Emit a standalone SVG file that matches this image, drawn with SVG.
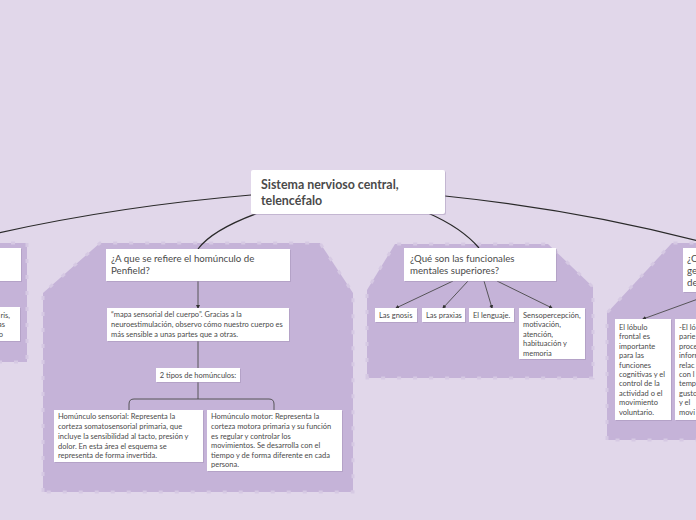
<svg xmlns="http://www.w3.org/2000/svg" width="696" height="520" viewBox="0 0 696 520">
<defs>
<style>
.bg{fill:#e1d7ea}
.cl{fill:#c5b3d8;stroke:#d6c9e3;stroke-width:3;stroke-dasharray:4 12}
.box{fill:#ffffff}
.sh{fill:#9f8fb3;opacity:0.45}
.t{font-family:Lato,"Open Sans",sans-serif;fill:#4a4a4a}
.title{font-size:12.4px;font-weight:bold}
.q{font-size:9.7px}
.s{font-size:7.5px}
.main{fill:none;stroke:#2a2a2a;stroke-width:1.2}
.sub{fill:none;stroke:#4a4a4a;stroke-width:0.9}
</style>
<marker id="ah" markerWidth="4" markerHeight="4" refX="3" refY="2" orient="auto" markerUnits="userSpaceOnUse">
<path d="M0,0 L4,2 L0,4 Z" fill="#333"/>
</marker>
</defs>
<rect class="bg" x="0" y="0" width="696" height="520"/>

<g id="clusters">
<polygon class="cl" points="-5,243 27,243 27,362 -5,362"/>
<polygon class="cl" points="43,492 43,293 100,243 320,243 353,293 353,492"/>
<polygon class="cl" points="367,378 367,290 395,244 548,244 593,287 593,378"/>
<polygon class="cl" points="607,440 607,313 672,243 700,243 700,440"/>
</g>

<g id="connectors">
<path class="main" d="M251,195 Q120,206 -2,233"/>
<path class="main" d="M445,196 Q580,210 698,241"/>
<path class="main" d="M258,213 Q212,230 198,249"/>
<path class="main" d="M428,213 Q462,228 479,248"/>
<path class="sub" d="M198,281 V308" marker-end="url(#ah)"/>
<path class="sub" d="M198,341 V368"/>
<path class="sub" d="M198,382 V399 M129,410 V404 Q129,399 134,399 H269 Q274,399 274,404 V410"/>
<path class="sub" d="M453,281 L396,308" marker-end="url(#ah)"/>
<path class="sub" d="M468,281 L443,308" marker-end="url(#ah)"/>
<path class="sub" d="M484,281 L492,308" marker-end="url(#ah)"/>
<path class="sub" d="M497,281 L552,308" marker-end="url(#ah)"/>
<path class="sub" d="M698,299 L643,319" marker-end="url(#ah)"/>
</g>

<g id="n-center">
<rect class="sh" x="252" y="171" width="194" height="44" rx="2"/>
<rect class="box" x="251" y="170" width="194" height="44" rx="2"/>
<text class="t title" x="261" y="189">Sistema nervioso central,</text>
<text class="t title" x="261" y="205">telencéfalo</text>
</g>

<g id="n-left1">
<rect class="sh" x="-4" y="249" width="26" height="33"/>
<rect class="box" x="-5" y="248" width="26" height="33"/>
</g>
<g id="n-left2">
<rect class="sh" x="-4" y="308" width="25" height="34"/>
<rect class="box" x="-5" y="307" width="25" height="34"/>
<text class="t s" x="10" y="318" text-anchor="end">ris,</text>
<text class="t s" x="5" y="327" text-anchor="end">as</text>
<text class="t s" x="3" y="337" text-anchor="end">o</text>
</g>

<g id="n-penfield">
<rect class="sh" x="107" y="250" width="184" height="32"/>
<rect class="box" x="106" y="249" width="184" height="32"/>
<text class="t q" x="111" y="262">¿A que se refiere el homúnculo de</text>
<text class="t q" x="111" y="274">Penfield?</text>
</g>
<g id="n-mapa">
<rect class="sh" x="108" y="309" width="182" height="33"/>
<rect class="box" x="107" y="308" width="182" height="33"/>
<text class="t s" x="111" y="317">“mapa sensorial del cuerpo”. Gracias a la</text>
<text class="t s" x="111" y="327">neuroestimulación, observo cómo nuestro cuerpo es</text>
<text class="t s" x="111" y="337">más sensible a unas partes que a otras.</text>
</g>
<g id="n-tipos">
<rect class="sh" x="157" y="369" width="84" height="14"/>
<rect class="box" x="156" y="368" width="84" height="14"/>
<text class="t s" x="198" y="378" text-anchor="middle">2 tipos de homúnculos:</text>
</g>
<g id="n-sensorial">
<rect class="sh" x="55" y="411" width="149" height="52"/>
<rect class="box" x="54" y="410" width="149" height="52"/>
<text class="t s" x="58" y="419">Homúnculo sensorial: Representa la</text>
<text class="t s" x="58" y="429">corteza somatosensorial primaria, que</text>
<text class="t s" x="58" y="439">incluye la sensibilidad al tacto, presión y</text>
<text class="t s" x="58" y="449">dolor. En esta área el esquema se</text>
<text class="t s" x="58" y="458">representa de forma invertida.</text>
</g>
<g id="n-motor">
<rect class="sh" x="208" y="411" width="135" height="61"/>
<rect class="box" x="207" y="410" width="135" height="61"/>
<text class="t s" x="211" y="419">Homúnculo motor: Representa la</text>
<text class="t s" x="211" y="429">corteza motora primaria y su función</text>
<text class="t s" x="211" y="439">es regular y controlar los</text>
<text class="t s" x="211" y="448">movimientos. Se desarrolla con el</text>
<text class="t s" x="211" y="458">tiempo y de forma diferente en cada</text>
<text class="t s" x="211" y="467">persona.</text>
</g>

<g id="n-funciones">
<rect class="sh" x="405" y="249" width="152" height="33"/>
<rect class="box" x="404" y="248" width="152" height="33"/>
<text class="t q" x="410" y="262">¿Qué son las funcionales</text>
<text class="t q" x="410" y="274">mentales superiores?</text>
</g>
<g id="n-gnosis">
<rect class="sh" x="376" y="309" width="42" height="14"/>
<rect class="box" x="375" y="308" width="42" height="14"/>
<text class="t s" x="379" y="318">Las gnosis</text>
</g>
<g id="n-praxias">
<rect class="sh" x="423" y="309" width="43" height="14"/>
<rect class="box" x="422" y="308" width="43" height="14"/>
<text class="t s" x="426" y="318">Las praxias</text>
</g>
<g id="n-lenguaje">
<rect class="sh" x="470" y="309" width="45" height="14"/>
<rect class="box" x="469" y="308" width="45" height="14"/>
<text class="t s" x="473" y="318">El lenguaje.</text>
</g>
<g id="n-senso">
<rect class="sh" x="520" y="309" width="66" height="51"/>
<rect class="box" x="519" y="308" width="66" height="51"/>
<text class="t s" x="523" y="318">Sensopercepción,</text>
<text class="t s" x="523" y="327">motivación,</text>
<text class="t s" x="523" y="337">atención,</text>
<text class="t s" x="523" y="346">habituación y</text>
<text class="t s" x="523" y="356">memoria</text>
</g>

<g id="n-right">
<rect class="sh" x="684" y="249" width="20" height="44"/>
<rect class="box" x="683" y="248" width="20" height="44"/>
<text class="t q" x="687" y="262">¿Q</text>
<text class="t q" x="687" y="274">ge</text>
<text class="t q" x="687" y="286">de</text>
</g>
<g id="n-frontal">
<rect class="sh" x="616" y="320" width="56" height="101"/>
<rect class="box" x="615" y="319" width="56" height="101"/>
<text class="t s" x="619" y="330">El lóbulo</text>
<text class="t s" x="619" y="339">frontal es</text>
<text class="t s" x="619" y="349">importante</text>
<text class="t s" x="619" y="358">para las</text>
<text class="t s" x="619" y="368">funciones</text>
<text class="t s" x="619" y="377">cognitivas y el</text>
<text class="t s" x="619" y="386">control de la</text>
<text class="t s" x="619" y="396">actividad o el</text>
<text class="t s" x="619" y="405">movimiento</text>
<text class="t s" x="619" y="415">voluntario.</text>
</g>
<g id="n-parietal">
<rect class="sh" x="676" y="320" width="24" height="101"/>
<rect class="box" x="675" y="319" width="24" height="101"/>
<text class="t s" x="679" y="330">-El ló</text>
<text class="t s" x="679" y="339">parie</text>
<text class="t s" x="679" y="349">proce</text>
<text class="t s" x="679" y="358">inforr</text>
<text class="t s" x="679" y="368">relac</text>
<text class="t s" x="679" y="377">con l</text>
<text class="t s" x="679" y="386">temp</text>
<text class="t s" x="679" y="396">gusto</text>
<text class="t s" x="679" y="405">y el</text>
<text class="t s" x="679" y="415">movi</text>
</g>
</svg>
